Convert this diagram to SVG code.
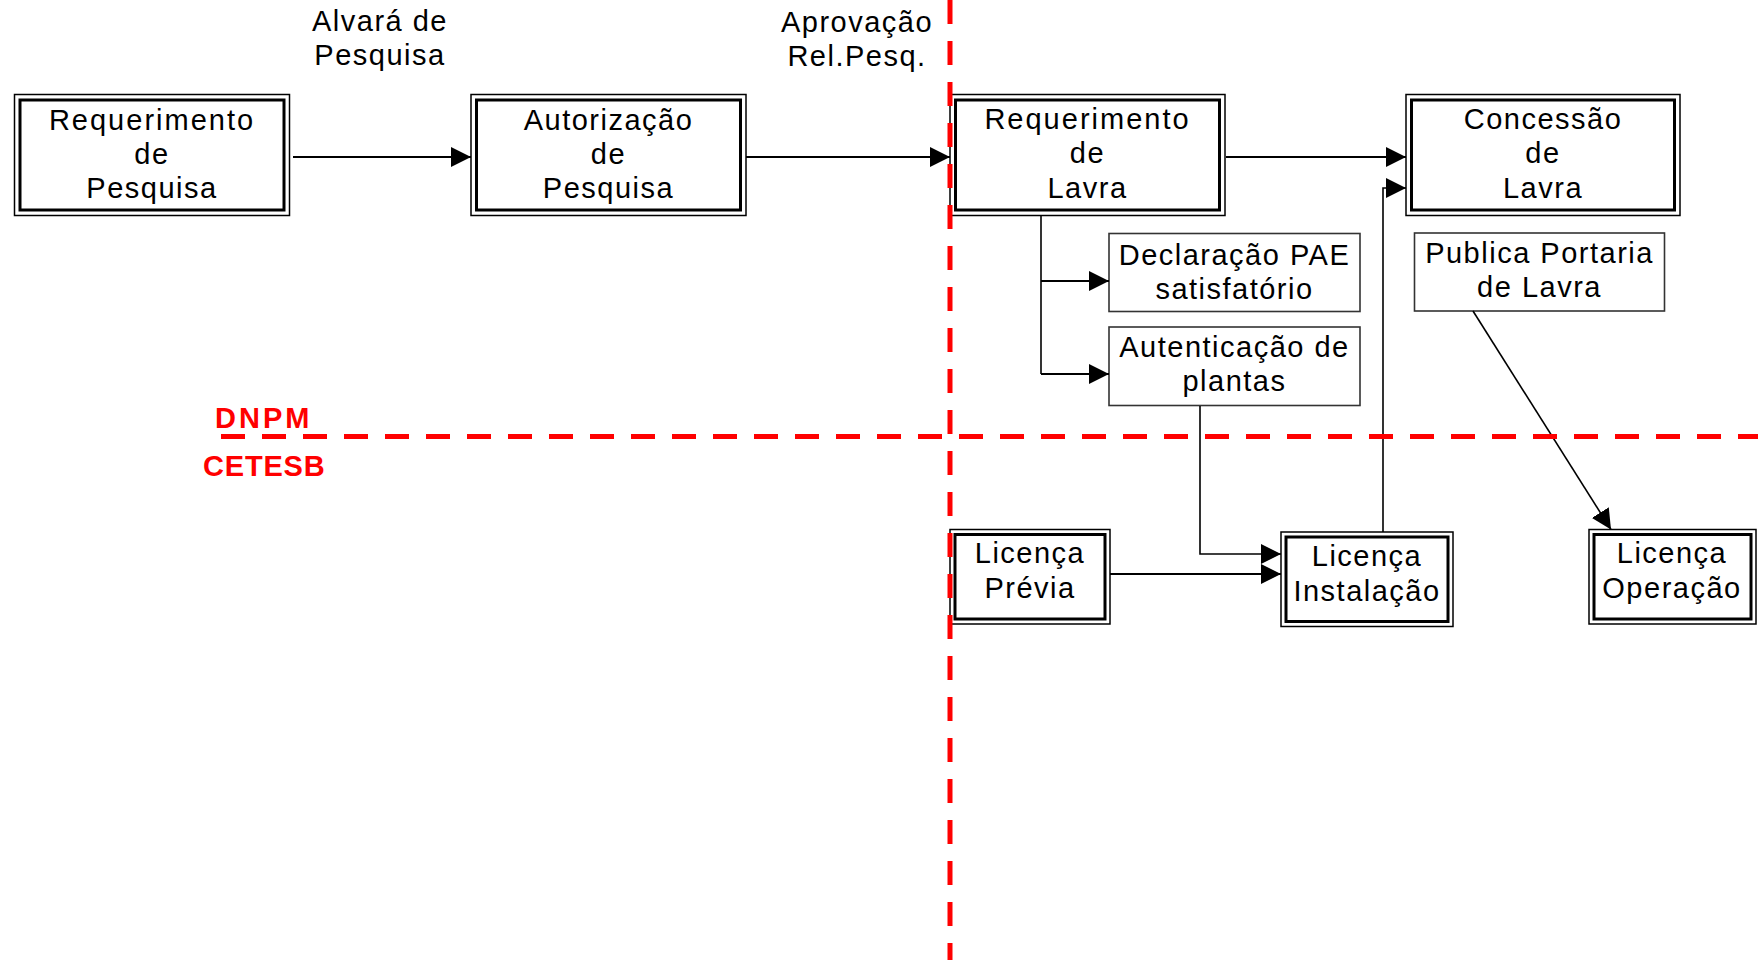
<svg xmlns="http://www.w3.org/2000/svg" width="1758" height="960" viewBox="0 0 1758 960">
<style>
  text { font-family: "Liberation Sans", Arial, sans-serif; font-size: 29px; fill: #000; text-anchor: middle; letter-spacing: 1.5px; }
  .outer { fill: #fff; stroke: #000; stroke-width: 1.5; }
  .inner { fill: none; stroke: #000; stroke-width: 3; }
  .single { fill: #fff; stroke: #333; stroke-width: 1.6; }
  .main { fill: none; stroke: #000; stroke-width: 2.2; }
  .thin { fill: none; stroke: #000; stroke-width: 1.6; }
  .lane { fill: none; stroke: #ff0000; stroke-width: 5; stroke-dasharray: 24 17; }
  .lanelabel { font-weight: bold; fill: #ff0000; text-anchor: start; }
</style>
<defs>
  <marker id="ah" markerUnits="userSpaceOnUse" markerWidth="20" markerHeight="20" refX="20" refY="10" orient="auto">
    <path d="M0,0 L20,10 L0,20 Z" fill="#000"/>
  </marker>
</defs>
<rect width="1758" height="960" fill="#fff"/>

<!-- free labels -->
<g id="label-alvara">
  <text x="380" y="31">Alvará de</text>
  <text x="380" y="65">Pesquisa</text>
</g>
<g id="label-aprovacao">
  <text x="857" y="32">Aprovação</text>
  <text x="857" y="66">Rel.Pesq.</text>
</g>

<!-- nodes -->
<g id="req-pesquisa">
  <rect class="outer" x="14.5" y="94.5" width="275" height="121"/>
  <rect class="inner" x="20" y="100" width="264" height="110"/>
  <text x="152" y="130" style="letter-spacing:2px">Requerimento</text>
  <text x="152" y="164">de</text>
  <text x="152" y="198">Pesquisa</text>
</g>
<g id="aut-pesquisa">
  <rect class="outer" x="471" y="94.5" width="275" height="121"/>
  <rect class="inner" x="476.5" y="100" width="264" height="110"/>
  <text x="608.5" y="130">Autorização</text>
  <text x="608.5" y="164">de</text>
  <text x="608.5" y="198">Pesquisa</text>
</g>
<g id="req-lavra">
  <rect class="outer" x="950" y="94.5" width="275" height="121"/>
  <rect class="inner" x="955.5" y="100" width="264" height="110"/>
  <text x="1087.5" y="129" style="letter-spacing:2px">Requerimento</text>
  <text x="1087.5" y="163">de</text>
  <text x="1087.5" y="198">Lavra</text>
</g>
<g id="concessao-lavra">
  <rect class="outer" x="1406" y="94.5" width="274" height="121"/>
  <rect class="inner" x="1411.5" y="100" width="263" height="110"/>
  <text x="1543" y="129">Concessão</text>
  <text x="1543" y="163">de</text>
  <text x="1543" y="198">Lavra</text>
</g>
<g id="declaracao-pae">
  <rect class="single" x="1109" y="233.5" width="251" height="78"/>
  <text x="1234.5" y="265">Declaração PAE</text>
  <text x="1234.5" y="299">satisfatório</text>
</g>
<g id="autenticacao-plantas">
  <rect class="single" x="1109" y="327" width="251" height="78.5"/>
  <text x="1234.5" y="357">Autenticação de</text>
  <text x="1234.5" y="391">plantas</text>
</g>
<g id="publica-portaria">
  <rect class="single" x="1414.5" y="233" width="250" height="78"/>
  <text x="1539.5" y="263">Publica Portaria</text>
  <text x="1539.5" y="297">de Lavra</text>
</g>
<g id="licenca-previa">
  <rect class="outer" x="950" y="529.5" width="160" height="94.5"/>
  <rect class="inner" x="955" y="534.5" width="150" height="84.5"/>
  <text x="1030" y="563">Licença</text>
  <text x="1030" y="598">Prévia</text>
</g>
<g id="licenca-instalacao">
  <rect class="outer" x="1281" y="532" width="172" height="94.5"/>
  <rect class="inner" x="1286" y="537" width="162" height="84.5"/>
  <text x="1367" y="566">Licença</text>
  <text x="1367" y="601">Instalação</text>
</g>
<g id="licenca-operacao">
  <rect class="outer" x="1589" y="529.5" width="167" height="94.5"/>
  <rect class="inner" x="1594" y="534.5" width="157" height="84.5"/>
  <text x="1672" y="563">Licença</text>
  <text x="1672" y="598">Operação</text>
</g>

<!-- connectors -->
<g id="connectors">
  <path class="main" d="M293,157 H471" marker-end="url(#ah)"/>
  <path class="main" d="M746,157 H950" marker-end="url(#ah)"/>
  <path class="main" d="M1226,157 H1406" marker-end="url(#ah)"/>
  <path class="thin" d="M1383,532 V188 H1406" marker-end="url(#ah)"/>
  <path class="thin" d="M1041,216 V374"/>
  <path class="main" d="M1041,281 H1109" marker-end="url(#ah)"/>
  <path class="main" d="M1041,374 H1109" marker-end="url(#ah)"/>
  <path class="thin" d="M1200,406 V554 H1281" marker-end="url(#ah)"/>
  <path class="main" d="M1110,574 H1281" marker-end="url(#ah)"/>
  <path class="thin" d="M1473,311 L1611,529.5" marker-end="url(#ah)"/>
</g>

<!-- swimlane separators -->
<g id="lanes">
  <path class="lane" d="M950,0 V960"/>
  <path class="lane" d="M221,436.5 H1758"/>
  <text class="lanelabel" x="215" y="428" style="letter-spacing:3px">DNPM</text>
  <text class="lanelabel" x="203" y="476" style="letter-spacing:0.8px">CETESB</text>
</g>
</svg>
